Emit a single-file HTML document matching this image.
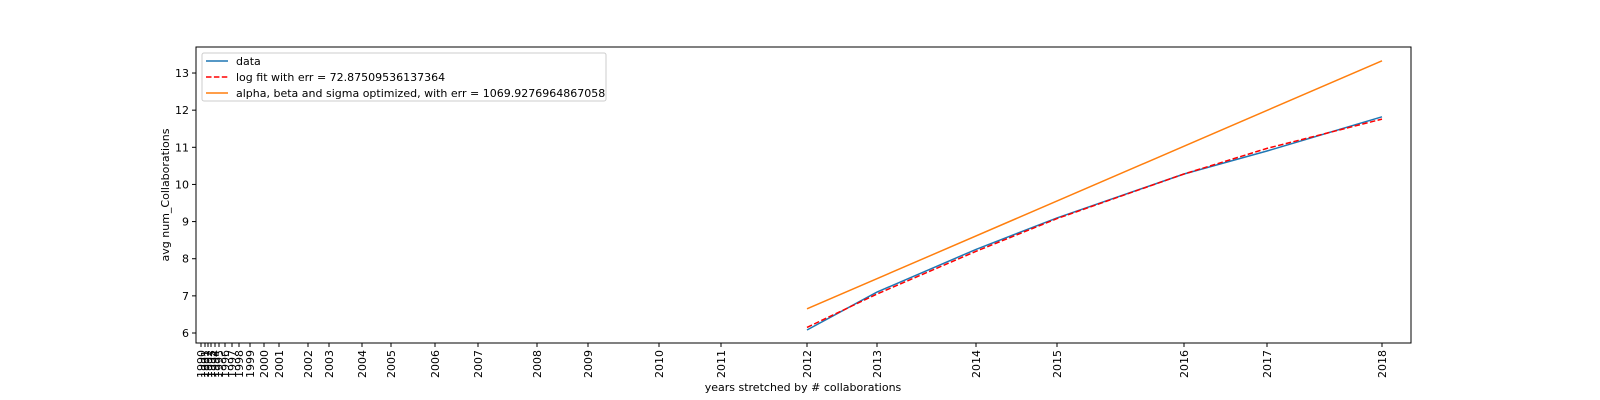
<!DOCTYPE html>
<html><head><meta charset="utf-8"><style>
body{margin:0;background:#fff;}
svg{display:block;font-family:"DejaVu Sans","Liberation Sans",sans-serif;}
</style></head><body>
<svg id="c" width="1600" height="400"></svg>
<script>
const years=[1990,1991,1992,1993,1994,1995,1996,1997,1998,1999,2000,2001,2002,2003,2004,2005,2006,2007,2008,2009,2010,2011,2012,2013,2014,2015,2016,2017,2018];
const cumCollab=[5,9,12,15,19,23,29,36,43,54,68,83,112,133,166,195,239,282,341,392,463,525,611,681,780,861,988,1071,1186];
const dataYears=[2012,2013,2014,2015,2016,2017,2018];
const dataVals=[6.08,7.1,8.25,9.1,10.28,10.9,11.82];
const logFit=[6.15,7.05,8.2,9.08,10.28,10.97,11.76];
const optStart=6.65, optEnd=13.33;
const yTicks=[6,7,8,9,10,11,12,13];
const NS='http://www.w3.org/2000/svg';
const svg=document.getElementById('c');
const L=196,R=1411,T=47,B=343;
const X=v=>L+v*(R-L)/1215;
const Y=v=>333-(v-6)*37.14;
const xOfYear=yr=>X(cumCollab[years.indexOf(yr)]);
function mk(t,a){const e=document.createElementNS(NS,t);for(const k in a)e.setAttribute(k,a[k]);svg.appendChild(e);return e;}
let e;
e=mk('rect',{x:L,y:T,width:R-L,height:B-T,fill:'none',stroke:'#000','stroke-width':1});


yTicks.forEach(v=>{
 e=mk('line',{x1:L-4,x2:L,y1:Y(v),y2:Y(v),stroke:'#000'});
 
 
 e=mk('text',{x:L-7,y:Y(v)+4,'text-anchor':'end','font-size':11});e.textContent=v;
 
 
});
years.forEach((yr,i)=>{
 const x=X(cumCollab[i]);
 e=mk('line',{x1:x,x2:x,y1:B,y2:B+4,stroke:'#000'});
 
 
 e=mk('text',{x:0,y:0,'font-size':11,'text-anchor':'end',transform:`translate(${x+4},${B+7}) rotate(-90)`});e.textContent=yr;
 
 
});
function line(vals,attrs,name){
 const pts=dataYears.map((yr,i)=>xOfYear(yr).toFixed(1)+','+Y(vals[i]).toFixed(1)).join(' ');
 e=mk('polyline',Object.assign({points:pts,fill:'none'},attrs));
 
 
}
line(dataVals,{stroke:'#1f77b4','stroke-width':1.5},'data-line');
line(logFit,{stroke:'#ff0000','stroke-width':1.5,'stroke-dasharray':'5.5,2.4'},'log-fit-line');
e=mk('line',{x1:xOfYear(2012),y1:Y(optStart),x2:xOfYear(2018),y2:Y(optEnd),stroke:'#ff7f0e','stroke-width':1.5});


e=mk('text',{x:0,y:0,'font-size':11,'text-anchor':'middle',transform:'translate(169,195) rotate(-90)'});e.textContent='avg num_Collaborations';


e=mk('text',{x:803,y:391,'font-size':11,'text-anchor':'middle'});e.textContent='years stretched by # collaborations';


e=mk('rect',{x:202,y:53,width:404,height:48,rx:2,fill:'#fff',stroke:'#ccc'});


const leg=[['data','#1f77b4',null],['log fit with err = 72.87509536137364','#ff0000','5.5,2.4'],['alpha, beta and sigma optimized, with err = 1069.9276964867058','#ff7f0e',null]];
leg.forEach((l,i)=>{
 const y=61+i*16;
 const a={x1:206,x2:228,y1:y,y2:y,stroke:l[1],'stroke-width':1.5};if(l[2])a['stroke-dasharray']=l[2];
 e=mk('line',a);
 
 
 e=mk('text',{x:236,y:y+4,'font-size':11});e.textContent=l[0];
 
 
});
</script>
</body></html>
